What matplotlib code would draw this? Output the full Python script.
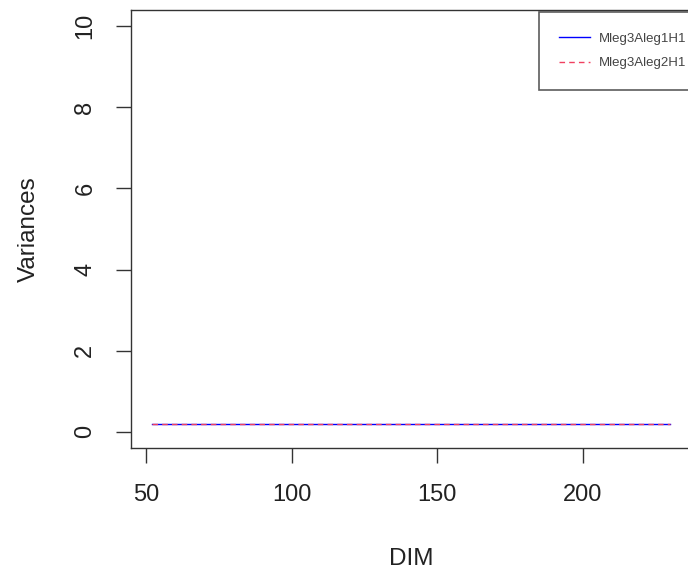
import numpy as np
import matplotlib
matplotlib.use("Agg")
import matplotlib.pyplot as plt

plt.rcParams['font.family'] = ['Liberation Sans', 'DejaVu Sans']

# DIM values and the variances (both series flat)
dim = [52, 80, 100, 130, 150, 180, 200, 230]
var_h1 = [0.2, 0.2, 0.2, 0.2, 0.2, 0.2, 0.2, 0.2]
var_h2 = [0.2, 0.2, 0.2, 0.2, 0.2, 0.2, 0.2, 0.2]
series_names = ["Mleg3Aleg1H1", "Mleg3Aleg2H1"]

W, H = 688, 576


def fx(px):
    return px / W


def fy(py):
    return 1 - py / H


fig = plt.figure(figsize=(W / 100, H / 100), dpi=100)
# the plot box runs just off the right edge of the picture, as in the reference
left, right, top, bottom = 131, 691, 10, 448
ax = fig.add_axes([fx(left), fy(bottom), (right - left) / W, (bottom - top) / H])

ax.plot(dim, var_h1, color="blue", lw=1.0, label=series_names[0])
ax.plot(dim, var_h2, color="#f04060", lw=1.0, ls=(0, (4, 3)), label=series_names[1])

# R style 4% padding around the data range
xr = max(dim) - min(dim)
ax.set_xlim(min(dim) - 0.04 * xr, max(dim) + 0.04 * xr)
ax.set_ylim(-0.4, 10.4)
ax.set_xticks([50, 100, 150, 200])
ax.set_yticks([0, 2, 4, 6, 8, 10])
for s in ax.spines.values():
    s.set_color("#333333")
    s.set_linewidth(1.0)
ax.tick_params(direction="out", length=11, width=1.0, color="#333333",
               labelsize=17, labelcolor="#222222")
ax.tick_params(axis="x", pad=15)
ax.tick_params(axis="y", pad=14)
for lab in ax.get_yticklabels():
    lab.set_rotation(90)
    lab.set_va("center")

ax.set_xlabel("DIM", fontsize=17.5, color="#222222", labelpad=30)
ax.set_ylabel("Variances", fontsize=17.5, color="#222222", labelpad=25)

leg = fig.legend(loc="upper left", mode="expand",
                 bbox_to_anchor=(fx(539), fy(89), (720 - 539) / W, (89 - 12) / H),
                 fontsize=9.5, frameon=True, fancybox=False, borderpad=1.55,
                 handlelength=2.35, handletextpad=0.6, labelspacing=0.95,
                 borderaxespad=0)
leg.get_frame().set_edgecolor("#333333")
leg.get_frame().set_linewidth(1.2)
for t in leg.get_texts():
    t.set_color("#444444")

fig.savefig("out.png", dpi=100)
